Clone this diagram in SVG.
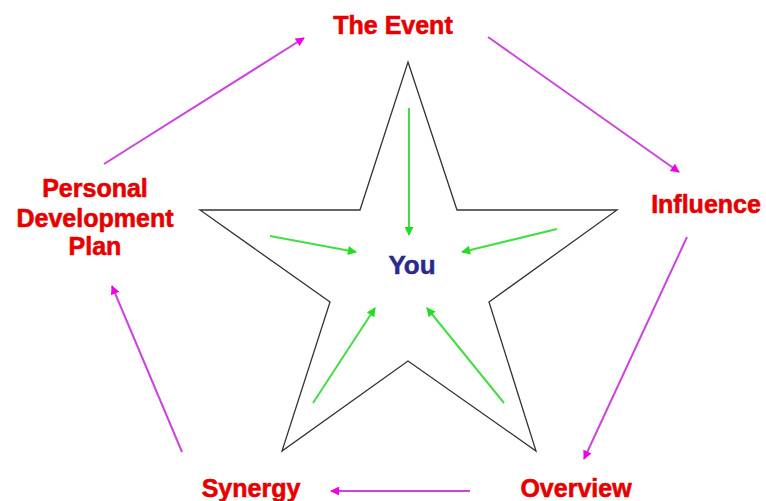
<svg xmlns="http://www.w3.org/2000/svg" width="766" height="501" viewBox="0 0 766 501">
<style>
.lbl{font-family:"Liberation Sans",Arial,sans-serif;font-weight:bold;font-size:25px;fill:#e60000;stroke:#e60000;stroke-width:0.6;text-anchor:middle}
.you{font-family:"Liberation Sans",Arial,sans-serif;font-weight:bold;font-size:26px;fill:#2a2a8a;stroke:#2a2a8a;stroke-width:0.5;text-anchor:middle}
.mag{stroke:#cc44dd;stroke-width:2;fill:none;marker-end:url(#mh)}
.grn{stroke:#44dd44;stroke-width:2;fill:none;marker-end:url(#gh)}
.star{fill:#fff;stroke:#333;stroke-width:1.3;stroke-linejoin:miter}
</style>
<defs>
<marker id="mh" viewBox="0 0 10 10" refX="9" refY="5" markerWidth="11" markerHeight="9" markerUnits="userSpaceOnUse" orient="auto"><path d="M0,0 L10,5 L0,10 z" fill="#ee00ee"/></marker>
<marker id="gh" viewBox="0 0 10 10" refX="9" refY="5" markerWidth="11" markerHeight="9" markerUnits="userSpaceOnUse" orient="auto"><path d="M0,0 L10,5 L0,10 z" fill="#22dd22"/></marker>
</defs>
<rect width="766" height="501" fill="#fff"/>
<g id="star">
<polygon class="star" points="408,62 457,210 617,210 489,302 536,451 408,361 282,451 330,302 200,210 360,210"/>
</g>
<g id="connectors">
<line class="grn" x1="409" y1="108" x2="409" y2="235"/>
<line class="grn" x1="270" y1="236" x2="356" y2="252"/>
<line class="grn" x1="557" y1="229" x2="462" y2="252"/>
<line class="grn" x1="313" y1="403" x2="375" y2="308"/>
<line class="grn" x1="504" y1="403" x2="427" y2="308"/>
<line class="mag" x1="104" y1="164" x2="304" y2="38"/>
<line class="mag" x1="488" y1="37" x2="679" y2="172"/>
<line class="mag" x1="687" y1="237" x2="584" y2="459"/>
<line class="mag" x1="470" y1="491" x2="331" y2="491"/>
<line class="mag" x1="182" y1="452" x2="112" y2="286"/>
</g>
<g id="you"><text class="you" x="412" y="274">You</text></g>
<g id="event"><text class="lbl" x="393" y="34">The Event</text></g>
<g id="influence"><text class="lbl" x="706" y="213">Influence</text></g>
<g id="overview"><text class="lbl" x="576" y="497">Overview</text></g>
<g id="synergy"><text class="lbl" x="251" y="497">Synergy</text></g>
<g id="pdp"><text class="lbl" x="95" y="197">Personal</text><text class="lbl" x="95" y="227">Development</text><text class="lbl" x="95" y="255">Plan</text></g>
</svg>
